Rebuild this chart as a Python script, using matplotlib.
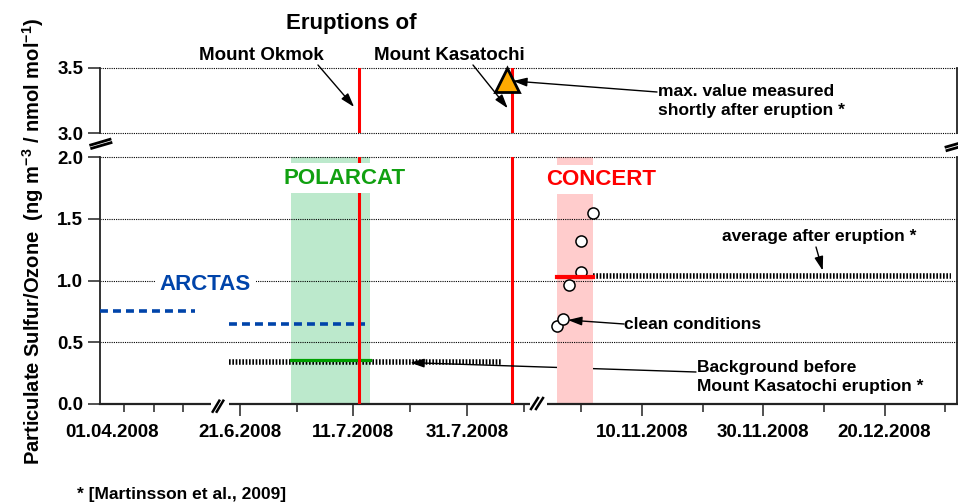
import datetime as dt
import matplotlib
matplotlib.use('Agg')
import matplotlib.pyplot as plt
import matplotlib.dates as mdates
from matplotlib.ticker import FixedLocator, FuncFormatter, NullLocator
from matplotlib.lines import Line2D
from matplotlib.patches import Rectangle

plt.rcParams['font.family'] = ['Liberation Sans', 'DejaVu Sans']
plt.rcParams['font.weight'] = 'bold'
plt.rcParams['mathtext.fontset'] = 'custom'
plt.rcParams['mathtext.rm'] = 'Liberation Sans:bold'
plt.rcParams['mathtext.it'] = 'Liberation Sans:bold'
plt.rcParams['mathtext.bf'] = 'Liberation Sans:bold'

D = dt.datetime

# --- data ---
arctas_spring = (D(2008, 4, 1), D(2008, 4, 17))
arctas_summer = (D(2008, 6, 19), D(2008, 7, 13))
arctas_values = [0.75, 0.65]

polarcat_period = (D(2008, 6, 30), D(2008, 7, 14))
polarcat_mean = 0.36

concert_period = (D(2008, 10, 27), D(2008, 11, 2))
concert_mean = 1.03
concert_dates = [D(2008, 10, 27), D(2008, 10, 28), D(2008, 10, 29),
                 D(2008, 10, 31), D(2008, 10, 31), D(2008, 11, 2)]
concert_values = [0.63, 0.69, 0.96, 1.07, 1.32, 1.55]

background_period = (D(2008, 6, 19), D(2008, 8, 6))
background_value = 0.34
after_period = (D(2008, 11, 2), D(2008, 12, 31))
after_value = 1.04

okmok_date = D(2008, 7, 12)
kasatochi_date = D(2008, 8, 8)
max_date = D(2008, 8, 7)
max_value = 3.41

# x segments of the broken axis
seg_lims = [(D(2008, 3, 31, 22), D(2008, 4, 21, 14)),
            (D(2008, 6, 17, 20), D(2008, 8, 12, 13)),
            (D(2008, 10, 23, 21), D(2008, 12, 31, 22))]
seg_major = [[], [D(2008, 6, 21), D(2008, 7, 11), D(2008, 7, 31)],
             [D(2008, 11, 10), D(2008, 11, 30), D(2008, 12, 20)]]
seg_minor = [[D(2008, 4, 5), D(2008, 4, 10), D(2008, 4, 15)],
             [D(2008, 7, 1), D(2008, 7, 21), D(2008, 8, 10)],
             [D(2008, 10, 31), D(2008, 11, 20), D(2008, 12, 10), D(2008, 12, 30)]]
top_ticks = [3.0, 3.5]
bot_ticks = [0.0, 0.5, 1.0, 1.5, 2.0]

W, H = 958, 504
seg_px = [(100, 222), (222, 538), (538, 957)]
top_px = (68, 133)
bot_px = (157, 404)


def rect(x0, x1, y0, y1):
    return [x0 / W, 1 - y1 / H, (x1 - x0) / W, (y1 - y0) / H]


def ff(px, py):
    return (px / W, 1 - py / H)


def date_label(x, pos):
    d = mdates.num2date(x)
    return f"{d.day}.{d.month}.{d.year}"


RED = '#ff0000'
BLUE = '#0044aa'
GREEN = '#10a010'
grid_kw = dict(color='black', lw=0.8, ls=(0, (1, 1)), clip_on=False, zorder=0.5)

fig = plt.figure(figsize=(W / 100, H / 100), dpi=100)

ax_t, ax_b = [], []
for i, (x0, x1) in enumerate(seg_px):
    at = fig.add_axes(rect(x0, x1, *top_px), facecolor='none')
    ab = fig.add_axes(rect(x0, x1, *bot_px), facecolor='none')
    for ax in (at, ab):
        ax.set_xlim(*seg_lims[i])
        for s in ('top', 'bottom', 'left', 'right'):
            ax.spines[s].set_visible(False)
        ax.spines['left'].set_color('#222222')
        ax.spines['right'].set_color('#222222')
        ax.spines['left'].set_linewidth(1.3)
        ax.spines['right'].set_linewidth(1.3)
        if i == 0:
            ax.spines['left'].set_visible(True)
            ax.tick_params(axis='y', direction='out', length=9, width=1.1,
                           pad=3, labelsize=13.5, color='#222222')
        else:
            ax.tick_params(axis='y', left=False, labelleft=False)
        if i == 2:
            ax.spines['right'].set_visible(True)
    at.set_ylim(3.0, 3.5)
    at.set_yticks(top_ticks)
    at.yaxis.set_major_formatter(FuncFormatter(lambda v, p: f"{v:.1f}"))
    at.xaxis.set_major_locator(NullLocator())
    at.tick_params(axis='x', bottom=False, labelbottom=False)
    ab.set_ylim(0.0, 2.0)
    ab.set_yticks(bot_ticks)
    ab.yaxis.set_major_formatter(FuncFormatter(lambda v, p: f"{v:.1f}"))
    ab.spines['bottom'].set_visible(True)
    ab.spines['bottom'].set_linewidth(1.6)
    ab.spines['bottom'].set_color('#222222')
    ab.xaxis.set_major_locator(FixedLocator(mdates.date2num(seg_major[i])))
    ab.xaxis.set_minor_locator(FixedLocator(mdates.date2num(seg_minor[i])))
    ab.xaxis.set_major_formatter(FuncFormatter(date_label))
    ab.tick_params(axis='x', which='major', direction='out', length=8.5,
                   width=1.1, pad=6, labelsize=13.5, color='#222222')
    ab.tick_params(axis='x', which='minor', direction='out', length=6,
                   width=1.1, color='#222222')
    for y in top_ticks:
        at.axhline(y, **grid_kw)
    for y in bot_ticks[1:]:
        ab.axhline(y, **grid_kw)
    ax_t.append(at)
    ax_b.append(ab)

# first date label sits a little right of the axis corner
ax_b[0].annotate('01.04.2008', xy=(seg_lims[0][0], 0), xycoords=('data', 'axes fraction'),
                 xytext=(8.5, -14.5), textcoords='offset points',
                 ha='center', va='top', fontsize=13.5)

# campaign bands
ax_b[1].axvspan(*polarcat_period, color='#bce9cc', lw=0, zorder=0.2)
ax_b[2].axvspan(*concert_period, color='#ffcccc', lw=0, zorder=0.2)

# ARCTAS means
ax_b[0].plot(arctas_spring, [arctas_values[0]] * 2, color=BLUE, lw=2.6,
             ls=(0, (2.2, 1.4)), zorder=3)
ax_b[1].plot(arctas_summer, [arctas_values[1]] * 2, color=BLUE, lw=2.6,
             ls=(0, (2.2, 1.4)), zorder=3)

# background and average after eruption
ax_b[1].plot(background_period, [background_value] * 2, color='black', lw=4,
             ls=(0, (0.3, 0.3)), zorder=2)
ax_b[2].plot(after_period, [after_value] * 2, color='black', lw=4,
             ls=(0, (0.3, 0.3)), zorder=2)

# POLARCAT mean
ax_b[1].plot(polarcat_period, [polarcat_mean] * 2, color='#00a000', lw=2.3, zorder=3)

# CONCERT points and mean
ax_b[2].plot(concert_dates, concert_values, 'o', ms=8, mfc='white', mec='black',
             mew=1.1, zorder=4, clip_on=False)
ax_b[2].plot(concert_period, [concert_mean] * 2, color=RED, lw=3, zorder=5)

# eruptions
for ax in (ax_t[1], ax_b[1]):
    ax.axvline(okmok_date, color=RED, lw=2.2, zorder=3)
    ax.axvline(kasatochi_date, color=RED, lw=2.2, zorder=3)

ax_t[1].plot([max_date], [max_value], '^', ms=17, mfc='#ffaa00', mec='black',
             mew=2, zorder=6, clip_on=False)

# texts
fig.text(*ff(351, 29), 'Eruptions of', ha='center', va='baseline', fontsize=16)
fig.text(*ff(261, 60), 'Mount Okmok', ha='center', va='baseline', fontsize=13.5)
fig.text(*ff(449, 60), 'Mount Kasatochi', ha='center', va='baseline', fontsize=13.5)
fig.text(*ff(658, 96), 'max. value measured', ha='left', va='baseline', fontsize=12.5)
fig.text(*ff(658, 115), 'shortly after eruption *', ha='left', va='baseline', fontsize=12.5)
fig.text(*ff(722, 241), 'average after eruption *', ha='left', va='baseline', fontsize=12.5)
fig.text(*ff(624, 329), 'clean conditions', ha='left', va='baseline', fontsize=12.5)
fig.text(*ff(697, 372), 'Background before', ha='left', va='baseline', fontsize=12.5)
fig.text(*ff(697, 391), 'Mount Kasatochi eruption *', ha='left', va='baseline', fontsize=12.5)
fig.text(*ff(77, 499), '* [Martinsson et al., 2009]', ha='left', va='baseline', fontsize=12.5)

box = dict(boxstyle='square,pad=0.2', fc='white', ec='none')
fig.text(*ff(345, 183.5), 'POLARCAT', ha='center', va='baseline', fontsize=16,
         color=GREEN, bbox=box)
fig.text(*ff(601, 185), 'CONCERT', ha='center', va='baseline', fontsize=16,
         color=RED, bbox=box)
fig.text(*ff(205.5, 290.5), 'ARCTAS', ha='center', va='baseline', fontsize=16,
         color=BLUE, bbox=box)

fig.text(*ff(33, 241), r'Particulate Sulfur/Ozone  (ng m$^{-3}$ / nmol mol$^{-1}$)',
         rotation=90, ha='center', va='center', fontsize=14.5)

# arrows
arrow = dict(arrowstyle='-|>,head_length=0.7,head_width=0.22', lw=1, color='black',
             shrinkA=0, shrinkB=0, mutation_scale=12)
ax_t[1].annotate('', xy=(D(2008, 7, 11, 3), 3.2), xytext=ff(318, 65),
                 textcoords='figure fraction', arrowprops=arrow, annotation_clip=False)
ax_t[1].annotate('', xy=(D(2008, 8, 7, 5), 3.19), xytext=ff(473, 65),
                 textcoords='figure fraction', arrowprops=arrow, annotation_clip=False)
ax_t[1].annotate('', xy=(D(2008, 8, 8, 3), 3.40), xytext=ff(657, 92),
                 textcoords='figure fraction', arrowprops=arrow, annotation_clip=False)
ax_b[2].annotate('', xy=(D(2008, 12, 9, 19), 1.08), xytext=ff(816, 247),
                 textcoords='figure fraction', arrowprops=arrow, annotation_clip=False)
ax_b[2].annotate('', xy=(D(2008, 10, 28, 19), 0.68), xytext=ff(624, 324),
                 textcoords='figure fraction', arrowprops=arrow, annotation_clip=False)
ax_b[1].annotate('', xy=(D(2008, 7, 21), 0.335), xytext=ff(696, 372),
                 textcoords='figure fraction', arrowprops=arrow, annotation_clip=False)

# axis break marks
for x0, x1 in [(211, 229), (530, 547)]:
    r = Rectangle(ff(x0, 407), (x1 - x0) / W, 6 / H, transform=fig.transFigure,
                  fc='white', ec='none', zorder=10)
    fig.add_artist(r)
for seg in [[(212.7, 411.7), (219.3, 400.7)], [(216.7, 411.7), (223.3, 400.7)],
            [(531, 409), (538, 398)], [(536, 409), (543, 398)]]:
    (xa, ya), (xb, yb) = seg
    fig.add_artist(Line2D([xa / W, xb / W], [1 - ya / H, 1 - yb / H],
                          transform=fig.transFigure, color='black', lw=1.8, zorder=11))
for seg in [[(90.7, 145), (110, 139.3)], [(91.7, 148.3), (111, 142.7)],
            [(946, 147), (960, 143)], [(947, 150.5), (961, 146.5)]]:
    (xa, ya), (xb, yb) = seg
    fig.add_artist(Line2D([xa / W, xb / W], [1 - ya / H, 1 - yb / H],
                          transform=fig.transFigure, color='black', lw=2, zorder=11))

fig.savefig('out.png', dpi=100)
